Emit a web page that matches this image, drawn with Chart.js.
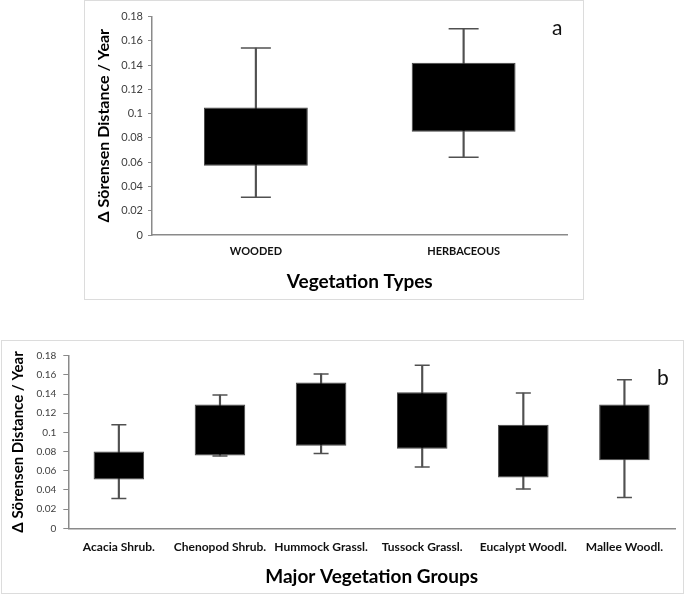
<!DOCTYPE html>
<html>
<head>
<meta charset="utf-8">
<script src="https://cdn.jsdelivr.net/npm/chart.js@4.4.1/dist/chart.umd.min.js"></script>
<style>
  body { margin: 0; background: #fff; width: 685px; height: 595px; position: relative; overflow: hidden; font-family: Lato, sans-serif; }
  .panel { position: absolute; border: 1px solid #dcdcdc; box-sizing: border-box; }
  .box { position: absolute; }
  .tag { position: absolute; font-family: Lato, sans-serif; font-size: 21px; color: #111; line-height: 1; }
</style>
</head>
<body>
<div class="panel" style="left:84px; top:0px; width:500px; height:300px;"></div>
<div class="panel" style="left:1px; top:340px; width:683px; height:254px;"></div>

<div class="box" style="left:84px; top:0px; width:500px; height:300px;"><canvas id="chartA" width="500" height="300"></canvas></div>
<div class="box" style="left:1px; top:340px; width:683px; height:254px;"><canvas id="chartB" width="683" height="254"></canvas></div>

<div class="tag" style="left:552px; top:16px;">a</div>
<div class="tag" style="left:657px; top:366px;">b</div>

<script>
// y axis labels (shared)
var yTicks = ['0', '0.02', '0.04', '0.06', '0.08', '0.1', '0.12', '0.14', '0.16', '0.18'];
var yTitle = 'Δ Sörensen Distance / Year';

// panel a - vegetation types
var typeLabels = ['WOODED', 'HERBACEOUS'];
var typeMin = [0.031, 0.064];
var typeQ1 = [0.057, 0.085];
var typeQ3 = [0.105, 0.142];
var typeMax = [0.154, 0.170];

// panel b - major vegetation groups
var groupLabels = ['Acacia Shrub.', 'Chenopod Shrub.', 'Hummock Grassl.', 'Tussock Grassl.', 'Eucalypt Woodl.', 'Mallee Woodl.'];
var groupMin = [0.031, 0.0755, 0.078, 0.064, 0.041, 0.032];
var groupQ1 = [0.051, 0.076, 0.086, 0.083, 0.053, 0.071];
var groupQ3 = [0.080, 0.129, 0.152, 0.142, 0.108, 0.129];
var groupMax = [0.108, 0.139, 0.161, 0.170, 0.141, 0.155];

var whiskerColor = '#505050';

function boxDatasets(lo, q1, q3, hi, capRadius) {
    return [
        {
            type: 'bar',
            data: q1.map(function(v, i) { return [v, q3[i]]; }),
            backgroundColor: '#000',
            borderColor: '#444',
            borderWidth: 1,
            borderSkipped: false,
            barPercentage: 0.5,
            categoryPercentage: 1,
            grouped: false,
            order: 0
        },
        {
            type: 'bar',
            data: lo.map(function(v, i) { return [v, hi[i]]; }),
            backgroundColor: whiskerColor,
            barThickness: 1.5,
            grouped: false,
            order: 1
        },
        {
            type: 'line',
            data: hi,
            showLine: false,
            pointStyle: 'line',
            pointRadius: capRadius,
            pointHoverRadius: capRadius,
            pointBorderColor: whiskerColor,
            pointBorderWidth: 1.5,
            order: 2
        },
        {
            type: 'line',
            data: lo,
            showLine: false,
            pointStyle: 'line',
            pointRadius: capRadius,
            pointHoverRadius: capRadius,
            pointBorderColor: whiskerColor,
            pointBorderWidth: 1.5,
            order: 2
        }
    ];
}

function makeChart(id, labels, datasets, cfg) {
    return new Chart(document.getElementById(id), {
        type: 'bar',
        data: { labels: labels, datasets: datasets },
        options: {
            responsive: false,
            animation: false,
            events: [],
            layout: { padding: { left: 0, right: cfg.padRight, top: cfg.padTop, bottom: 0 } },
            plugins: { legend: { display: false }, tooltip: { enabled: false } },
            scales: {
                x: {
                    afterFit: function(scale) { scale.height = cfg.xHeight; },
                    grid: { display: false, drawTicks: false },
                    border: { display: true, color: '#8a8a8a', width: 1.5 },
                    ticks: {
                        padding: cfg.xTickPad,
                        color: '#111',
                        maxRotation: 0,
                        autoSkip: false,
                        font: { family: 'Lato', weight: 'bold', size: cfg.xTickSize }
                    },
                    title: {
                        display: true,
                        text: cfg.xTitle,
                        color: '#000',
                        padding: { top: 0, bottom: cfg.xTitlePad },
                        font: { family: 'Lato', weight: 'bold', size: 19 }
                    }
                },
                y: {
                    min: 0,
                    max: 0.18,
                    afterFit: function(scale) { scale.width = cfg.yWidth; },
                    grid: { display: true, drawOnChartArea: false, drawTicks: true, tickLength: cfg.tickLen, color: '#8a8a8a', lineWidth: 1 },
                    border: { display: true, color: '#8a8a8a', width: 1.5 },
                    ticks: {
                        stepSize: 0.02,
                        padding: cfg.yTickPad,
                        color: '#404040',
                        font: { family: 'Lato', size: cfg.yTickSize },
                        callback: function(v, i) { return yTicks[i]; }
                    },
                    title: {
                        display: true,
                        text: yTitle,
                        color: '#000',
                        padding: { top: cfg.yTitlePad, bottom: 0 },
                        font: { family: 'Lato', weight: 'bold', size: cfg.yTitleSize }
                    }
                }
            }
        }
    });
}

makeChart('chartA', typeLabels, boxDatasets(typeMin, typeQ1, typeQ3, typeMax, 15), {
    padRight: 10, padTop: 15.3, xHeight: 65, yWidth: 68,
    xTickPad: 10, xTickSize: 11, xTitle: 'Vegetation Types', xTitlePad: 7,
    tickLen: 4, yTickPad: 5, yTickSize: 11, yTitlePad: 10.5, yTitleSize: 16
});

makeChart('chartB', groupLabels, boxDatasets(groupMin, groupQ1, groupQ3, groupMax, 7.5), {
    padRight: 9, padTop: 15.7, xHeight: 65.7, yWidth: 67.3,
    xTickPad: 11.5, xTickSize: 12, xTitle: 'Major Vegetation Groups', xTitlePad: 6,
    tickLen: 5, yTickPad: 7, yTickSize: 10, yTitlePad: 8.5, yTitleSize: 15
});
</script>
</body>
</html>
